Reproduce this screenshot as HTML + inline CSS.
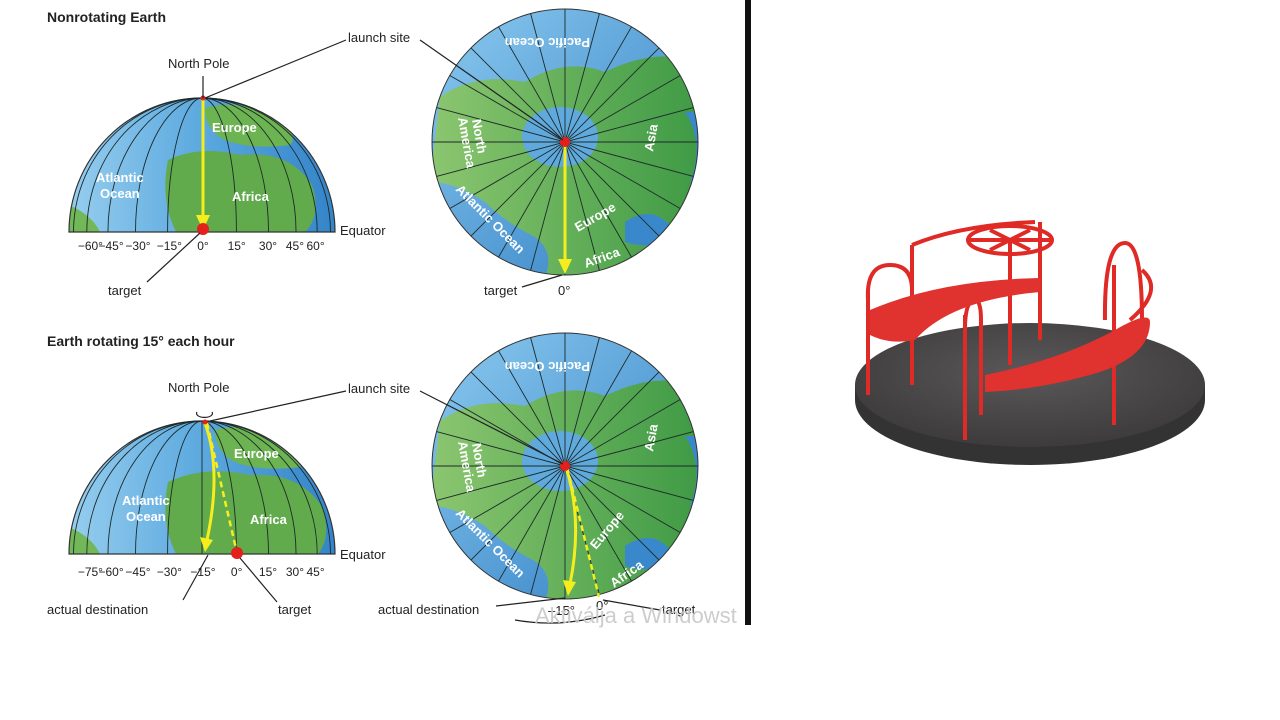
<!DOCTYPE html>
<html><head><meta charset="utf-8"><style>
html,body{margin:0;padding:0;background:#fff;width:1280px;height:720px;overflow:hidden}
svg{display:block}
text{font-family:"Liberation Sans",Arial,sans-serif}
</style></head><body>
<svg id="s" width="1280" height="720" viewBox="0 0 1280 720">
<defs>
<linearGradient id="gh" x1="0" x2="1" y1="0" y2="0">
<stop offset="0" stop-color="#9ad0f0"/><stop offset="0.5" stop-color="#5aa8de"/><stop offset="1" stop-color="#2f80c6"/></linearGradient>
<linearGradient id="gc" x1="0" x2="1" y1="0" y2="1">
<stop offset="0" stop-color="#8ccaf0"/><stop offset="1" stop-color="#2d7cc2"/></linearGradient>
<linearGradient id="gl" x1="0" x2="1" y1="0" y2="0">
<stop offset="0" stop-color="#8cc670"/><stop offset="1" stop-color="#3f9a45"/></linearGradient>
<clipPath id="ch1"><path d="M69 232 A133 134 0 0 1 335 232 Z"/></clipPath>
<clipPath id="ch2"><path d="M69 554 A133 133 0 0 1 335 554 Z"/></clipPath>
<clipPath id="cc1"><circle cx="565" cy="142" r="133"/></clipPath>
<clipPath id="cc2"><circle cx="565" cy="466" r="133"/></clipPath>
<radialGradient id="plat" cx="0.5" cy="0.4" r="0.6"><stop offset="0" stop-color="#5a5858"/><stop offset="1" stop-color="#3d3b3b"/></radialGradient>
<g id="polarLand">
<rect x="-135" y="-135" width="270" height="270" fill="url(#gc)"/>
<path d="M-125 -45 Q-90 -70 -40 -60 Q0 -85 40 -70 Q90 -95 135 -80 L135 135 L-20 135 Q-10 110 -30 95 Q-60 80 -80 60 Q-110 40 -135 40Z" fill="url(#gl)"/>
<ellipse cx="-5" cy="-5" rx="38" ry="30" fill="#5fa9dd"/>
<path d="M120 -30 Q140 0 125 40 L140 40 L140 -30Z" fill="#3a88cc"/>
<path d="M60 80 Q90 60 110 90 Q90 110 60 100Z" fill="#3a88cc"/>
</g>
</defs>
<rect x="745" y="0" width="6" height="625" fill="#111"/>

<text x="47" y="22" font-size="14" font-weight="bold" fill="#222">Nonrotating Earth</text>
<text x="47" y="346" font-size="14" font-weight="bold" fill="#222">Earth rotating 15° each hour</text>

<g id="hemi1" clip-path="url(#ch1)">
<rect x="60" y="90" width="290" height="150" fill="url(#gh)"/>
<path d="M168 160 Q200 145 240 155 Q290 150 312 185 Q322 215 305 232 L176 232 Q160 200 168 160Z" fill="#62ab4c"/>
<path d="M205 108 Q240 98 275 118 Q300 135 290 145 Q250 150 225 140 Q205 130 205 108Z" fill="#6cb352"/>
<path d="M69 205 Q92 215 100 232 L69 232Z" fill="#72b858"/>
</g>
<g id="hemi2" clip-path="url(#ch2)">
<rect x="60" y="410" width="290" height="150" fill="url(#gh)"/>
<path d="M168 482 Q205 465 250 475 Q300 472 322 507 Q332 537 318 554 L176 554 Q160 522 168 482Z" fill="#62ab4c"/>
<path d="M215 430 Q250 420 285 440 Q310 457 300 467 Q260 472 235 462 Q215 452 215 430Z" fill="#6cb352"/>
<path d="M69 527 Q92 537 100 554 L69 554Z" fill="#72b858"/>
</g>
<g clip-path="url(#cc1)"><use href="#polarLand" x="565" y="142"/></g>
<g clip-path="url(#cc2)"><use href="#polarLand" x="565" y="466"/></g>
<path d="M69 232 A133 134 0 0 1 335 232 Z" fill="none" stroke="#333" stroke-width="1.2"/>
<path d="M69 554 A133 133 0 0 1 335 554 Z" fill="none" stroke="#333" stroke-width="1.2"/>
<circle cx="565" cy="142" r="133" fill="none" stroke="#333" stroke-width="1"/>
<circle cx="565" cy="466" r="133" fill="none" stroke="#333" stroke-width="1"/>
<g id="lines"></g>

<g font-size="13" font-weight="bold" fill="#fff">
<text x="212" y="132">Europe</text><text x="232" y="201">Africa</text>
<text x="96" y="182">Atlantic</text><text x="100" y="198">Ocean</text>
<text x="234" y="458">Europe</text><text x="250" y="524">Africa</text>
<text x="122" y="505">Atlantic</text><text x="126" y="521">Ocean</text>
<text transform="translate(590,38) rotate(180)">Pacific Ocean</text>
<text transform="translate(590,362) rotate(180)">Pacific Ocean</text>
<text transform="translate(653,152) rotate(-80)">Asia</text>
<text transform="translate(653,452) rotate(-80)">Asia</text>
<text transform="translate(472,120) rotate(80)">North</text><text transform="translate(458,118) rotate(80)">America</text>
<text transform="translate(472,444) rotate(80)">North</text><text transform="translate(458,442) rotate(80)">America</text>
<text transform="translate(455,190) rotate(45)">Atlantic Ocean</text>
<text transform="translate(455,514) rotate(45)">Atlantic Ocean</text>
<text transform="translate(578,232) rotate(-30)">Europe</text>
<text transform="translate(586,268) rotate(-20)">Africa</text>
<text transform="translate(596,550) rotate(-50)">Europe</text>
<text transform="translate(614,588) rotate(-35)">Africa</text>
</g>

<g id="paths">
<line x1="203" y1="99" x2="203" y2="218" stroke="#f5ee1c" stroke-width="3"/>
<path d="M196 215 L203 230 L210 215Z" fill="#f5ee1c"/>
<line x1="565" y1="143" x2="565" y2="262" stroke="#f5ee1c" stroke-width="3"/>
<path d="M558 259 L565 274 L572 259Z" fill="#f5ee1c"/>
<path d="M205 423 Q222 470 207 540" fill="none" stroke="#f5ee1c" stroke-width="3"/>
<path d="M200 537 L205 552 L213 540Z" fill="#f5ee1c"/>
<line x1="207" y1="423" x2="237" y2="553" stroke="#f5ee1c" stroke-width="2.5" stroke-dasharray="6 4"/>
<path d="M566 467 Q583 520 570 584" fill="none" stroke="#f5ee1c" stroke-width="3"/>
<path d="M563 580 L568 596 L576 582Z" fill="#f5ee1c"/>
<line x1="567" y1="467" x2="599" y2="597" stroke="#f5ee1c" stroke-width="2.5" stroke-dasharray="6 4"/>
<circle cx="203" cy="229" r="6" fill="#e4201c"/>
<circle cx="237" cy="553" r="6" fill="#e4201c"/>
<circle cx="565" cy="142" r="5" fill="#e4201c"/>
<circle cx="565" cy="466" r="5" fill="#e4201c"/>
<circle cx="203" cy="98" r="2.5" fill="#e4201c"/><circle cx="205" cy="422" r="2.5" fill="#e4201c"/>
</g>

<g stroke="#222" stroke-width="1.2" fill="none">
<line x1="203" y1="76" x2="203" y2="98"/>
<line x1="205" y1="98" x2="346" y2="40"/>
<line x1="420" y1="40" x2="563" y2="140"/>
<line x1="200" y1="233" x2="147" y2="282"/>
<line x1="522" y1="287" x2="562" y2="275"/>
<line x1="210" y1="421" x2="346" y2="391"/>
<line x1="420" y1="391" x2="563" y2="464"/>
<path d="M197 412 A8 4 0 1 0 212 412"/>
<line x1="208" y1="555" x2="183" y2="600"/>
<line x1="240" y1="558" x2="277" y2="602"/>
<line x1="496" y1="606" x2="565" y2="598"/>
<line x1="603" y1="600" x2="660" y2="610"/>
<path d="M515 620 Q560 628 605 615"/>
</g>

<g font-size="13" fill="#222">
<text x="168" y="68">North Pole</text>
<text x="348" y="42">launch site</text>
<text x="340" y="235">Equator</text>
<text x="108" y="295">target</text>
<text x="484" y="295">target</text><text x="558" y="295">0°</text>
<text x="168" y="392">North Pole</text>
<text x="348" y="393">launch site</text>
<text x="340" y="559">Equator</text>
<text x="47" y="614">actual destination</text>
<text x="278" y="614">target</text>
<text x="378" y="614">actual destination</text>
<text x="548" y="615">–15°</text><text x="596" y="610">0°</text>
<text x="662" y="614">target</text>
</g>
<g id="ticks" font-size="12" fill="#222" text-anchor="middle"></g>

<text x="535" y="623" font-size="22" fill="#c8c8c8" opacity="0.9">Aktiválja a Windowst</text>

<g>
<path d="M855 385 L855 400 A175 65 0 0 0 1205 400 L1205 385Z" fill="#333"/>
<ellipse cx="1030" cy="385" rx="175" ry="62" fill="url(#plat)"/>
<g stroke="#e02a26" stroke-width="4" fill="none">
<line x1="1010" y1="240" x2="1010" y2="365"/>
<line x1="868" y1="395" x2="868" y2="290"/>
<line x1="912" y1="385" x2="912" y2="245"/>
<line x1="965" y1="440" x2="965" y2="315"/>
<line x1="981" y1="415" x2="981" y2="320"/>
<line x1="1114" y1="425" x2="1114" y2="265"/>
<line x1="1040" y1="340" x2="1040" y2="222"/>
<path d="M868 300 Q866 265 890 265 Q912 265 912 290"/>
<path d="M965 325 Q966 300 975 300 Q981 300 981 320"/>
<path d="M1105 320 Q1104 243 1125 243 Q1142 243 1142 320"/>
<path d="M912 245 Q960 225 1035 222"/>
<path d="M1142 270 Q1165 290 1130 320"/>
<ellipse cx="1010" cy="240" rx="42" ry="14"/>
<line x1="970" y1="240" x2="1050" y2="240"/><line x1="990" y1="230" x2="1030" y2="250"/><line x1="1030" y1="230" x2="990" y2="250"/>
</g>
<path d="M870 310 Q940 280 1040 278 L1040 292 Q950 300 915 340 Q890 345 870 335Z" fill="#e0322e"/>
<path d="M985 375 Q1060 360 1115 330 Q1150 310 1150 322 Q1150 355 1100 372 Q1040 390 985 392Z" fill="#e0322e"/>
</g>
</svg>
<script>
const hemiLongitudes=[-75,-60,-45,-30,-15,0,15,30,45,60,75];
const tickLabels1=["−60°","−45°","−30°","−15°","0°","15°","30°","45°","60°"];
const tickLons1=[-60,-45,-30,-15,0,15,30,45,60];
const tickLabels2=["−75°","−60°","−45°","−30°","−15°","0°","15°","30°","45°"];
const tickLons2=[-75,-60,-45,-30,-15,0,15,30,45];
const rotationOffset=15;
const radialAngles=[0,15,30,45,60,75,90,105,120,135,150,165];
const NS="http://www.w3.org/2000/svg";
const g=document.getElementById('lines');
const tk=document.getElementById('ticks');
function lonX(cx,R,lon){return cx+R*Math.sin(lon*Math.PI/180);}
function drawHemi(cx,cy,R,H){
  hemiLongitudes.forEach(l=>{
    const x=lonX(cx,R,l);const p=document.createElementNS(NS,'path');
    
    
    const rx=Math.abs(x-cx);
    p.setAttribute('d',l===0?`M${cx} ${cy-H} L${cx} ${cy}`:`M${cx} ${cy-H} A${rx} ${H} 0 0 ${l>0?1:0} ${x} ${cy}`);
    p.setAttribute('stroke','#1d2a2a');p.setAttribute('stroke-width','0.9');p.setAttribute('fill','none');
    g.appendChild(p);
  });
}
drawHemi(202,232,133,134);drawHemi(202,554,133,133);
function drawRad(cx,cy,R){
  radialAngles.forEach(a=>{
    const r=a*Math.PI/180;const l=document.createElementNS(NS,'line');
    
    
    l.setAttribute('x1',cx-R*Math.cos(r));l.setAttribute('y1',cy-R*Math.sin(r));
    l.setAttribute('x2',cx+R*Math.cos(r));l.setAttribute('y2',cy+R*Math.sin(r));
    l.setAttribute('stroke','#1d2a2a');l.setAttribute('stroke-width','0.9');
    g.appendChild(l);
  });
}
drawRad(565,142,133);drawRad(565,466,133);
function drawTicks(labels,lons,cx,R,y,off){
  labels.forEach((s,i)=>{
    const t=document.createElementNS(NS,'text');
    
    
    t.setAttribute('x',lonX(cx,R,lons[i]+off));t.setAttribute('y',y);t.textContent=s;tk.appendChild(t);
  });
}
drawTicks(tickLabels1,tickLons1,203,130,250,0);
drawTicks(tickLabels2,tickLons2,203,130,576,rotationOffset);
</script>
</body></html>
